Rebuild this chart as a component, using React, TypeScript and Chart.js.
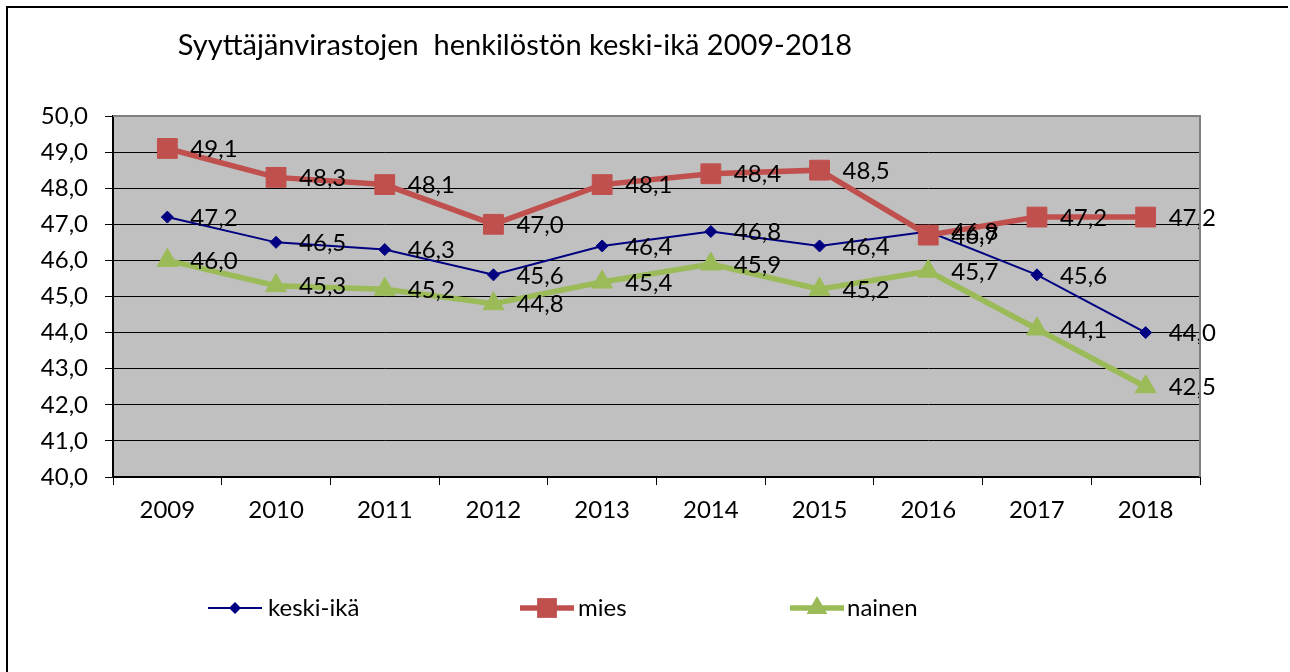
import React, { useEffect, useRef } from "react";
import { Chart, registerables } from "chart.js";

Chart.register(...registerables);

const titleText = "Syyttäjänvirastojen  henkilöstön keski-ikä 2009-2018";
const years = ["2009", "2010", "2011", "2012", "2013", "2014", "2015", "2016", "2017", "2018"];
const seriesNames = ["keski-ikä", "mies", "nainen"];
const keskiIka = [47.2, 46.5, 46.3, 45.6, 46.4, 46.8, 46.4, 46.8, 45.6, 44.0];
const mies = [49.1, 48.3, 48.1, 47.0, 48.1, 48.4, 48.5, 46.7, 47.2, 47.2];
const nainen = [46.0, 45.3, 45.2, 44.8, 45.4, 45.9, 45.2, 45.7, 44.1, 42.5];
const yTickLabels = ["40,0", "41,0", "42,0", "43,0", "44,0", "45,0", "46,0", "47,0", "48,0", "49,0", "50,0"];

const FONT = "Lato, 'Noto Sans', sans-serif";
const fmt = (v: number) => v.toFixed(1).replace(".", ",");

const W = 1290;
const H = 672;

function drawMarker(ctx: CanvasRenderingContext2D, style: string, x: number, y: number, r: number, color: string) {
  ctx.save();
  ctx.fillStyle = color;
  ctx.beginPath();
  if (style === "rectRot") {
    ctx.moveTo(x - r, y);
    ctx.lineTo(x, y - r);
    ctx.lineTo(x + r, y);
    ctx.lineTo(x, y + r);
  } else if (style === "rect") {
    const s = Math.SQRT1_2 * r;
    ctx.rect(x - s, y - s, 2 * s, 2 * s);
  } else {
    ctx.moveTo(x, y - r);
    ctx.lineTo(x + r * Math.sin((2 * Math.PI) / 3), y + r / 2);
    ctx.lineTo(x - r * Math.sin((2 * Math.PI) / 3), y + r / 2);
  }
  ctx.closePath();
  ctx.fill();
  ctx.restore();
}

export default function App() {
  const ref = useRef<HTMLCanvasElement | null>(null);

  useEffect(() => {
    if (!ref.current) return;

    const decor = {
      id: "decor",
      beforeDraw(chart: any) {
        const { ctx, chartArea } = chart;
        ctx.save();
        ctx.fillStyle = "#ffffff";
        ctx.fillRect(0, 0, W, H);
        ctx.fillStyle = "#c0c0c0";
        ctx.fillRect(chartArea.left, chartArea.top, chartArea.right - chartArea.left, chartArea.bottom - chartArea.top);
        ctx.restore();
      },
      afterDatasetsDraw(chart: any) {
        const { ctx } = chart;
        ctx.save();
        ctx.font = `24px ${FONT}`;
        ctx.fillStyle = "#000";
        ctx.textAlign = "left";
        ctx.textBaseline = "middle";
        chart.data.datasets.forEach((ds: any, i: number) => {
          const meta = chart.getDatasetMeta(i);
          meta.data.forEach((pt: any, j: number) => {
            ctx.fillText(fmt(ds.data[j]), pt.x + 23, pt.y + 1);
          });
        });
        ctx.restore();
      },
      afterDraw(chart: any) {
        const { ctx, chartArea } = chart;
        ctx.save();
        // plot area border (top and right)
        ctx.strokeStyle = "#808080";
        ctx.lineWidth = 2;
        ctx.beginPath();
        ctx.moveTo(chartArea.left, chartArea.top);
        ctx.lineTo(chartArea.right, chartArea.top);
        ctx.lineTo(chartArea.right, chartArea.bottom);
        ctx.stroke();
        // outer frame
        ctx.strokeStyle = "#000";
        ctx.lineWidth = 2;
        ctx.beginPath();
        ctx.moveTo(7, H);
        ctx.lineTo(7, 7);
        ctx.lineTo(1288, 7);
        ctx.stroke();
        // title
        ctx.fillStyle = "#000";
        ctx.font = `29px ${FONT}`;
        ctx.textAlign = "center";
        ctx.textBaseline = "middle";
        ctx.fillText(titleText, 515, 46);
        // legend
        const items = [
          { x0: 208, x1: 262, tx: 268 },
          { x0: 520, x1: 574, tx: 578 },
          { x0: 790, x1: 844, tx: 847 },
        ];
        const ly = 608;
        chart.data.datasets.forEach((ds: any, i: number) => {
          const it = items[i];
          ctx.strokeStyle = ds.borderColor;
          ctx.lineWidth = ds.borderWidth;
          ctx.beginPath();
          ctx.moveTo(it.x0, ly);
          ctx.lineTo(it.x1, ly);
          ctx.stroke();
          drawMarker(ctx, ds.pointStyle, (it.x0 + it.x1) / 2, ly, ds.pointRadius, ds.pointBackgroundColor);
          ctx.fillStyle = "#000";
          ctx.font = `24px ${FONT}`;
          ctx.textAlign = "left";
          ctx.textBaseline = "middle";
          ctx.fillText(ds.label, it.tx, ly);
        });
        ctx.restore();
      },
    };

    const chart = new Chart(ref.current, {
      type: "line",
      data: {
        labels: years,
        datasets: [
          {
            label: seriesNames[0],
            data: keskiIka,
            borderColor: "#000080",
            backgroundColor: "#000080",
            borderWidth: 2,
            pointStyle: "rectRot",
            pointRadius: 6,
            pointBackgroundColor: "#000080",
            pointBorderColor: "#000080",
            pointBorderWidth: 1,
            tension: 0,
            order: 3,
          },
          {
            label: seriesNames[1],
            data: mies,
            borderColor: "#c0504d",
            backgroundColor: "#c0504d",
            borderWidth: 5.5,
            pointStyle: "rect",
            pointRadius: 14,
            pointBackgroundColor: "#c0504d",
            pointBorderColor: "#c0504d",
            pointBorderWidth: 1,
            tension: 0,
            order: 2,
          },
          {
            label: seriesNames[2],
            data: nainen,
            borderColor: "#9bbb59",
            backgroundColor: "#9bbb59",
            borderWidth: 5.5,
            pointStyle: "triangle",
            pointRadius: 12,
            pointBackgroundColor: "#9bbb59",
            pointBorderColor: "#9bbb59",
            pointBorderWidth: 1,
            tension: 0,
            order: 1,
          },
        ] as any,
      },
      options: {
        responsive: false,
        animation: false,
        devicePixelRatio: 1,
        layout: { padding: { top: 116, right: 90, left: 0, bottom: 0 } },
        plugins: {
          legend: { display: false },
          title: { display: false },
          tooltip: { enabled: false },
        },
        scales: {
          x: {
            type: "category",
            offset: true,
            grid: {
              offset: true,
              drawOnChartArea: false,
              drawTicks: true,
              tickLength: 8,
              color: "#000",
              tickColor: "#000",
              lineWidth: 1,
            },
            border: { color: "#000", width: 2 },
            ticks: {
              font: { family: FONT, size: 24 },
              color: "#000",
              padding: 11,
              maxRotation: 0,
              autoSkip: false,
            },
            afterFit: (s: any) => {
              s.height = H - 477;
            },
          },
          y: {
            min: 40,
            max: 50,
            ticks: {
              stepSize: 1,
              font: { family: FONT, size: 24 },
              color: "#000",
              padding: 17,
              callback: (_v: any, i: number) => yTickLabels[i],
            },
            grid: {
              color: (c: any) => (c.tick && c.tick.value === 50 ? "rgba(0,0,0,0)" : "#000"),
              tickColor: "#000",
              tickLength: 8,
              lineWidth: 1,
            },
            border: { color: "#000", width: 2 },
            afterFit: (s: any) => {
              s.width = 113;
            },
          },
        },
      } as any,
      plugins: [decor],
    });

    return () => chart.destroy();
  }, []);

  return (
    <div style={{ position: "absolute", left: 0, top: 0, width: W, height: H }}>
      <canvas ref={ref} width={W} height={H} style={{ width: W, height: H, display: "block" }} />
    </div>
  );
}
